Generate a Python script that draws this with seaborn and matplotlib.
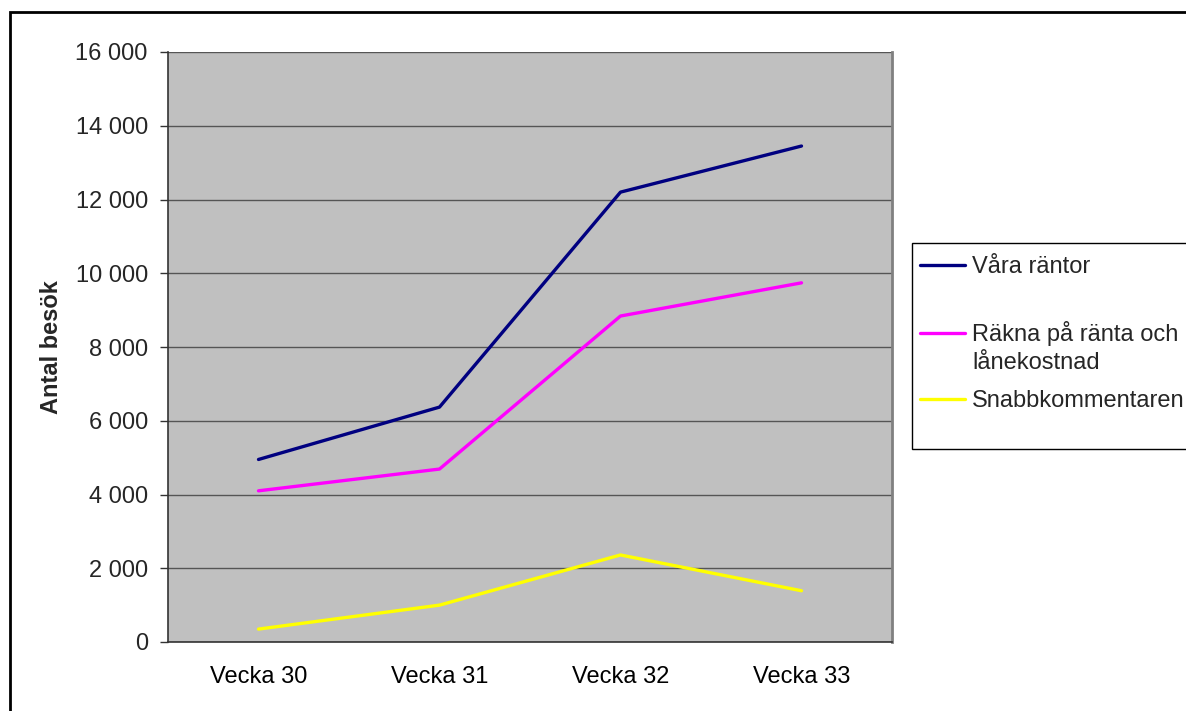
import matplotlib
matplotlib.use("Agg")
import matplotlib.pyplot as plt
import pandas as pd
import seaborn as sns
from matplotlib.patches import Rectangle
from matplotlib.ticker import FixedLocator, FuncFormatter

weeks = ["Vecka 30", "Vecka 31", "Vecka 32", "Vecka 33"]
vara_rantor = [4950, 6370, 12200, 13450]
rakna_ranta = [4100, 4690, 8840, 9740]
snabbkommentaren = [350, 1000, 2360, 1390]

series_names = ["Våra räntor", "Räkna på ränta och", "Snabbkommentaren"]
colors = ["#000080", "#FF00FF", "#FFFF00"]

sns.set_style("white")
plt.rcParams["font.family"] = ["Liberation Sans", "DejaVu Sans"]

df = pd.DataFrame({
    "week": weeks * 3,
    "besok": vara_rantor + rakna_ranta + snabbkommentaren,
    "serie": [n for n in series_names for _ in weeks],
})

FS = 17
fig = plt.figure(figsize=(11.86, 7.11), dpi=100)
W, H = 1186, 711
ax = fig.add_axes([168 / W, 1 - 642 / H, (892 - 168) / W, (642 - 52) / H])
ax.set_facecolor("#C0C0C0")

sns.lineplot(data=df, x="week", y="besok", hue="serie", hue_order=series_names,
             palette=dict(zip(series_names, colors)), sort=False,
             linewidth=2.4, legend=False, ax=ax)

ax.set_xlim(-0.5, 3.5)
ax.set_ylim(0, 16000)
ax.set_yticks(range(0, 16001, 2000))
ax.yaxis.set_major_formatter(FuncFormatter(lambda v, p: f"{v:,.0f}".replace(",", " ")))
ax.grid(axis="y", color="#555555", linewidth=1.0)
ax.set_axisbelow(True)

ax.set_xticks(range(len(weeks)))
ax.set_xticklabels(weeks)
ax.xaxis.set_minor_locator(FixedLocator([-0.5, 0.5, 1.5, 2.5, 3.5]))
ax.tick_params(axis="x", which="major", length=0, pad=17, labelsize=FS, colors="black")
ax.tick_params(axis="x", which="minor", length=5, width=1, color="#333333", direction="out")
ax.tick_params(axis="y", length=6, width=1, color="#333333", pad=8.5, labelsize=FS, left=True)

ax.set_xlabel("")
ax.set_ylabel("Antal besök", fontsize=FS, fontweight="bold")
ax.yaxis.set_label_coords(-0.145, 0.5)

for side in ["left", "bottom"]:
    ax.spines[side].set_color("#333333")
    ax.spines[side].set_linewidth(1.2)
ax.spines["right"].set_color("#808080")
ax.spines["right"].set_linewidth(2)
ax.spines["top"].set_visible(False)

# legend frame + entries
fig.add_artist(Rectangle((912 / W, 1 - 449 / H), 0.3, (449 - 243) / H,
                         transform=fig.transFigure, facecolor="white",
                         edgecolor="black", linewidth=1))
fig.legend(handles=ax.get_lines()[:3], labels=series_names, loc="upper left",
           bbox_to_anchor=(920 / W, 1 - 256 / H), frameon=False, fontsize=FS,
           handlelength=1.9, handletextpad=0.3, borderpad=0, borderaxespad=0,
           labelspacing=1.84)
# second line of the wrapped legend label
fig.text(972 / W, 1 - 369 / H, "lånekostnad", fontsize=FS, va="baseline", ha="left")

# outer chart border
fig.add_artist(Rectangle((10 / W, -0.1), 1.2, 1 - 12 / H + 0.1,
                         transform=fig.transFigure, fill=False,
                         edgecolor="black", linewidth=2))

fig.savefig("out.png", dpi=100)
